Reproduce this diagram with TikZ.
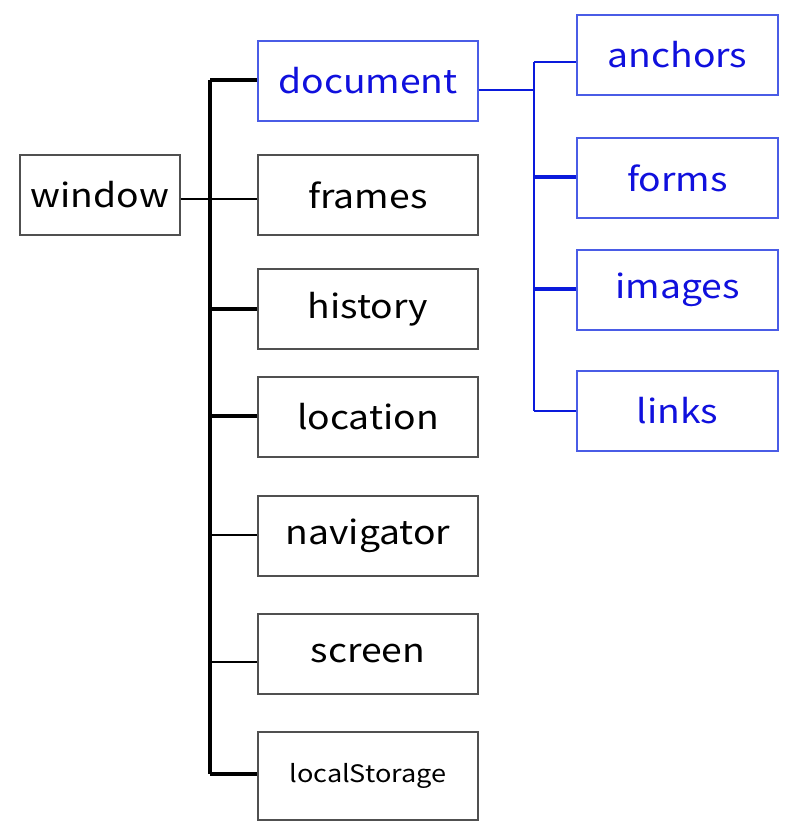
\documentclass[tikz,border=0pt]{standalone}
\usepackage{fontspec}
\setmainfont[FakeStretch=1.13]{Noto Sans CJK JP}
\definecolor{bluetxt}{HTML}{1010DD}
\definecolor{blueline}{HTML}{0A1ADC}
\definecolor{blueedge}{HTML}{4A5CE6}
\definecolor{grayedge}{HTML}{505050}
\tikzset{
  bx/.style={draw=grayedge, line width=1.1pt, minimum width=220pt, minimum height=80pt, inner sep=0pt, font=\fontsize{33}{36}\selectfont, text=black},
  bbx/.style={bx, draw=blueedge, text=bluetxt},
  thin/.style={line width=1.3pt, black},
  thick/.style={line width=3.3pt, black},
  bthin/.style={line width=1.4pt, blueline},
  bthick/.style={line width=3.3pt, blueline},
}
\begin{document}
\begin{tikzpicture}[x=1pt,y=-1pt]
\useasboundingbox (0,0) rectangle (800,833);
\node[bx, minimum width=160pt] (win) at (100,195) {window};
\node[bbx] (doc) at (368,81) {document};
\node[bx] (fra) at (368,195) {frames};
\node[bx] (his) at (368,309) {history};
\node[bx] (loc) at (368,417) {location};
\node[bx] (nav) at (368,536) {navigator};
\node[bx] (scr) at (368,654) {screen};
\node[bx, minimum height=88pt, font=\fontsize{24}{27}\selectfont] (ls) at (368,776) {localStorage};
\node[bbx, minimum width=201pt] (anc) at (677.5,55) {anchors};
\node[bbx, minimum width=201pt] (frm) at (677.5,178) {forms};
\node[bbx, minimum width=201pt] (img) at (677.5,290) {images};
\node[bbx, minimum width=201pt] (lnk) at (677.5,411) {links};
% trunk
\coordinate (t1) at (210,80);
\coordinate (t2) at (210,774);
\draw[thick] (t1) -- (t2);
\draw[thick] (t1) -- (doc.west |- t1);
\draw[thin] (win.east |- 0,199) -- (fra.west |- 0,199);
\draw[thick] (210,309) -- (his.west |- 0,309);
\draw[thick] (210,416) -- (loc.west |- 0,416);
\draw[thin] (210,535) -- (nav.west |- 0,535);
\draw[thin] (210,662) -- (scr.west |- 0,662);
\draw[thick] (210,774) -- (ls.west |- 0,774);
% blue subtree
\coordinate (b0) at (534,90);
\draw[bthin] (doc.east |- b0) -- (b0);
\draw[bthin] (534,62) -- (534,411);
\draw[bthin] (534,62) -- (anc.west |- 0,62);
\draw[bthick] (534,177) -- (frm.west |- 0,177);
\draw[bthick] (534,289) -- (img.west |- 0,289);
\draw[bthin] (534,411) -- (lnk.west |- 0,411);
\end{tikzpicture}
\end{document}
